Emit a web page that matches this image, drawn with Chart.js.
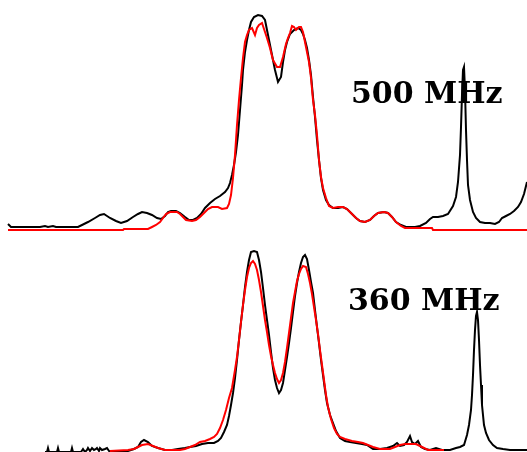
<!DOCTYPE html>
<html>
<head>
<meta charset="utf-8">
<script src="https://cdn.jsdelivr.net/npm/chart.js@4/dist/chart.umd.min.js"></script>
<style>
    html, body { margin: 0; padding: 0; background: #fff; }
    #wrap { position: relative; width: 527px; height: 452px; overflow: hidden; background: #fff; }
    #wrap canvas { position: absolute; left: 0; }
    #top500 { top: 0; }
    #bottom360 { top: 240px; }
</style>
</head>
<body>
<div id="wrap">
    <canvas id="top500" width="527" height="240"></canvas>
    <canvas id="bottom360" width="527" height="212"></canvas>
</div>
<script>
// Подписи спектров
var fieldLabels = ['500 MHz', '360 MHz'];

// 500 MHz — эксперимент (чёрная линия): сдвиг и интенсивность
var exp500X = [8, 11, 40, 45, 48, 53, 56, 78, 82, 88, 95, 100, 104, 110, 116, 121, 127, 133, 138, 142, 147, 152, 157, 161, 165, 168, 171, 176, 180, 185, 189, 193, 197, 201, 205, 210, 215, 220, 225, 228, 230, 232, 234, 236, 238, 240, 242, 243, 245, 247, 249, 251, 254, 258, 262, 265, 267, 269, 271, 273, 275, 278, 281, 283, 285, 287, 290, 294, 298, 301, 303, 305, 307, 309, 311, 313, 315, 317, 319, 321, 323, 326, 329, 333, 338, 343, 347, 351, 356, 360, 365, 370, 374, 378, 384, 388, 392, 396, 401, 406, 415, 420, 426, 430, 433, 438, 443, 448, 453, 456, 458, 460, 461, 462, 463, 464, 465, 466, 467, 468, 470, 473, 476, 480, 485, 490, 495, 499, 502, 506, 510, 514, 518, 521, 524, 526, 527];
var exp500Y = [6, 3, 3, 4, 3, 4, 3, 3, 5, 8, 12, 15, 16, 12, 9, 7, 9, 13, 16, 18, 17, 15, 12, 11, 14, 18, 19, 19, 17, 13, 10, 10, 12, 16, 22, 27, 31, 34, 38, 42, 47, 55, 65, 78, 95, 120, 145, 160, 178, 190, 200, 208, 213, 215, 214, 210, 200, 190, 180, 170, 160, 148, 153, 168, 180, 188, 196, 200, 202, 200, 196, 190, 182, 170, 155, 133, 113, 90, 70, 52, 40, 30, 25, 22, 22, 23, 21, 17, 12, 9, 8, 10, 14, 17, 18, 17, 13, 8, 5, 3, 3, 4, 7, 11, 13, 13, 14, 16, 24, 33, 48, 75, 103, 135, 160, 163, 140, 100, 70, 45, 30, 18, 12, 8, 7, 7, 6, 8, 12, 14, 16, 19, 23, 28, 36, 44, 48];

// 500 MHz — расчёт (красная линия)
var fit500X = [8, 123, 124, 148, 152, 156, 160, 163, 166, 170, 177, 180, 183, 186, 192, 196, 200, 204, 208, 212, 218, 222, 227, 229, 231, 233, 235, 237, 239, 241, 243, 245, 247, 249, 252, 255, 257, 259, 262, 264, 267, 270, 273, 277, 280, 283, 286, 288, 290, 292, 294, 296, 299, 301, 303, 305, 307, 309, 311, 313, 315, 317, 319, 321, 323, 326, 329, 333, 338, 343, 347, 351, 356, 360, 365, 370, 374, 378, 384, 388, 392, 396, 401, 405, 432, 433, 527];
var fit500Y = [0, 0, 1, 1, 3, 5, 8, 12, 16, 18, 18, 16, 13, 10, 9, 10, 13, 17, 21, 23, 23, 21, 22, 26, 35, 52, 75, 105, 130, 152, 172, 188, 195, 200, 202, 195, 202, 205, 207, 201, 192, 182, 170, 163, 163, 173, 186, 192, 197, 204, 203, 200, 203, 203, 198, 188, 178, 168, 152, 130, 115, 95, 70, 53, 42, 32, 24, 22, 23, 23, 21, 17, 12, 9, 8, 10, 14, 17, 18, 17, 13, 8, 4, 2, 2, 0, 0];

// 360 MHz — эксперимент (чёрная линия)
var exp360X = [45, 47, 48, 49, 56, 57, 58, 59, 70, 71, 72, 73, 81, 83, 85, 87, 88, 90, 92, 94, 96, 97, 99, 100, 102, 105, 107, 109, 112, 128, 134, 138, 141, 144, 148, 152, 158, 165, 172, 178, 185, 190, 196, 202, 208, 214, 218, 221, 224, 227, 229, 231, 233, 235, 237, 239, 241, 243, 245, 247, 249, 251, 254, 257, 259, 261, 263, 265, 267, 269, 271, 273, 275, 277, 279, 281, 283, 285, 287, 289, 291, 293, 295, 297, 299, 301, 303, 305, 307, 309, 311, 313, 315, 317, 319, 321, 323, 325, 327, 330, 333, 336, 340, 345, 350, 356, 362, 367, 373, 380, 387, 393, 397, 400, 404, 407, 410, 412, 415, 418, 421, 425, 430, 436, 442, 450, 456, 460, 464, 467, 469, 471, 472, 473, 474, 475, 476, 477, 478, 479, 480, 481, 482, 484, 486, 489, 493, 497, 503, 510, 527];
var exp360Y = [-2, -2, 2, -2, -2, -2, 2, -2, -2, -2, 2, -2, -2, 1, -2, 0, 2, -1, 2, 0, 1, 2, -1, 2, 0, 1, 2, -1, -2, -1, 1, 3, 8, 10, 8, 4, 2, 0, 0, 1, 2, 3, 4, 6, 7, 7, 9, 12, 18, 25, 34, 45, 57, 72, 90, 110, 128, 145, 163, 178, 190, 198, 199, 198, 190, 178, 162, 145, 130, 115, 98, 82, 70, 62, 57, 60, 67, 80, 93, 107, 122, 138, 154, 167, 178, 187, 193, 195, 191, 180, 168, 157, 140, 123, 107, 90, 75, 60, 47, 35, 27, 19, 12, 9, 8, 7, 6, 5, 1, 1, 2, 4, 7, 4, 5, 8, 14, 8, 6, 9, 3, 1, 0, 2, 0, 0, 2, 3, 5, 15, 25, 40, 55, 75, 100, 120, 134, 138, 130, 110, 85, 65, 45, 25, 17, 10, 5, 2, 1, 0, 0];

// 360 MHz — расчёт (красная линия)
var fit360X = [110, 128, 134, 138, 142, 148, 153, 158, 165, 180, 185, 190, 195, 200, 205, 210, 214, 217, 220, 223, 226, 229, 232, 235, 237, 239, 241, 243, 245, 247, 249, 251, 253, 255, 257, 259, 261, 263, 265, 267, 269, 271, 273, 275, 277, 279, 281, 283, 285, 287, 289, 291, 293, 295, 297, 299, 301, 303, 306, 308, 310, 312, 314, 316, 318, 320, 322, 324, 326, 328, 331, 334, 337, 340, 345, 352, 358, 363, 368, 373, 380, 390, 395, 400, 405, 410, 416, 420, 424, 428, 444];
var fit360Y = [-1, 0, 1, 3, 5, 6, 4, 2, 0, 0, 1, 3, 5, 8, 9, 11, 13, 16, 22, 30, 40, 52, 62, 80, 93, 110, 128, 145, 160, 173, 182, 187, 189, 186, 180, 170, 158, 144, 130, 118, 105, 94, 85, 77, 71, 67, 70, 77, 88, 102, 117, 132, 147, 158, 169, 176, 181, 184, 183, 176, 167, 156, 143, 130, 116, 100, 85, 70, 55, 43, 31, 22, 16, 13, 11, 9, 8, 7, 5, 3, 1, 1, 3, 5, 6, 6, 6, 4, 2, 0, 0];

function toPoints(xs, ys) {
    return xs.map(function(x, i) { return { x: x, y: ys[i] }; });
}

// Плагин: подпись частоты прибора
var fieldLabelPlugin = {
    id: 'fieldLabel',
    afterDatasetsDraw: function(chart, args, opts) {
        var ctx = chart.ctx;
        ctx.save();
        ctx.font = 'bold 30px "DejaVu Serif", serif';
        ctx.fillStyle = '#000';
        ctx.textBaseline = 'alphabetic';
        ctx.textAlign = 'left';
        ctx.fillText(opts.text, opts.x, opts.y);
        ctx.restore();
    }
};

function makeSpectrum(canvasId, expPts, fitPts, yMax, pad, label, labelPos) {
    var ctx = document.getElementById(canvasId).getContext('2d');
    return new Chart(ctx, {
        type: 'line',
        data: {
            datasets: [
                {
                    label: 'fit',
                    data: fitPts,
                    borderColor: '#ff0000',
                    borderWidth: 2,
                    pointRadius: 0,
                    tension: 0,
                    fill: false,
                    clip: false
                },
                {
                    label: 'exp',
                    data: expPts,
                    borderColor: '#000000',
                    borderWidth: 2,
                    pointRadius: 0,
                    tension: 0,
                    fill: false,
                    clip: false
                }
            ]
        },
        options: {
            responsive: false,
            animation: false,
            devicePixelRatio: 1,
            layout: { padding: pad },
            plugins: {
                legend: { display: false },
                tooltip: { enabled: false },
                fieldLabel: { text: label, x: labelPos[0], y: labelPos[1] }
            },
            scales: {
                x: { type: 'linear', min: 0, max: 527, display: false },
                y: { type: 'linear', min: 0, max: yMax, display: false }
            }
        },
        plugins: [fieldLabelPlugin]
    });
}

makeSpectrum('top500', toPoints(exp500X, exp500Y), toPoints(fit500X, fit500Y),
    215, { top: 15, bottom: 10, left: 0, right: 0 }, fieldLabels[0], [351, 103]);
makeSpectrum('bottom360', toPoints(exp360X, exp360Y), toPoints(fit360X, fit360Y),
    199, { top: 11, bottom: 2, left: 0, right: 0 }, fieldLabels[1], [348, 70]);
</script>
</body>
</html>
